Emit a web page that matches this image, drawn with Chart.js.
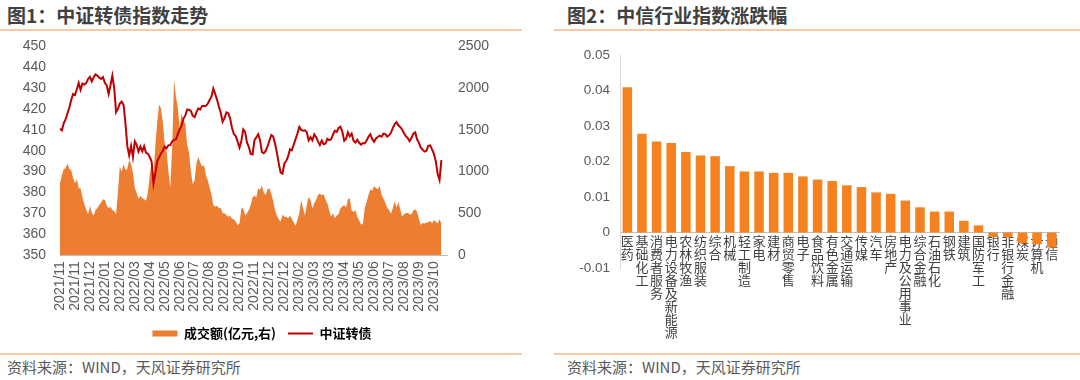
<!DOCTYPE html>
<html><head><meta charset="utf-8">
<script src="https://cdn.jsdelivr.net/npm/chart.js@4.4.0/dist/chart.umd.min.js"></script>
<style>
html,body{margin:0;padding:0;background:#fff;}
body{width:1080px;height:380px;position:relative;overflow:hidden;font-family:"Noto Sans CJK SC","Liberation Sans",sans-serif;}
.title{position:absolute;top:3px;font-size:19px;font-weight:bold;color:#404040;line-height:24px;white-space:nowrap;}
.rule{position:absolute;height:2px;background:#F8C9A2;}
.src{position:absolute;top:357px;font-size:15px;color:#595959;line-height:20px;white-space:nowrap;}
.box{position:absolute;}
</style></head>
<body>
<div class="title" style="left:7px;">图1：中证转债指数走势</div>
<div class="title" style="left:567px;">图2：中信行业指数涨跌幅</div>
<div class="rule" style="left:0;top:29px;width:522px;"></div>
<div class="rule" style="left:554px;top:29px;width:526px;"></div>
<div class="rule" style="left:0;top:353px;width:522px;"></div>
<div class="rule" style="left:554px;top:353px;width:526px;"></div>
<div class="src" style="left:7px;">资料来源：WIND，天风证券研究所</div>
<div class="src" style="left:567px;">资料来源：WIND，天风证券研究所</div>
<div class="box" style="left:0;top:24px;width:524px;height:331px;"><canvas id="c1" width="524" height="331"></canvas></div>
<div class="box" style="left:540px;top:35px;width:540px;height:305px;"><canvas id="c2" width="540" height="305"></canvas></div>
<script>
// ---- Chart 1 data ----
const tickLabels = ['2021/11','2021/11','2021/12','2022/01','2022/02','2022/03','2022/04','2022/05','2022/06','2022/07','2022/08','2022/09','2022/10','2022/11','2022/12','2022/12','2023/02','2023/03','2023/03','2023/04','2023/05','2023/06','2023/07','2023/08','2023/09','2023/10'];
const cbIndex = [
410.6,409.8,413.2,415,418,420.7,424.3,427.2,426.7,429.5,
432.5,429.2,432.2,431.7,432.4,434.4,435.4,433.2,435.2,436.6,
435.9,435,434.4,435.3,432.6,431.3,427.3,431.4,436,430,
418.5,420.2,422.6,423.5,422,413.2,402.3,397.8,402.3,397,
404.5,402.8,399.6,402,399.8,402.2,399,398.6,397,394.8,
384.3,389.2,395,396.8,398.6,400,402,401.2,402.6,402.7,
404.5,405.2,405.4,408,410.2,412,415.3,
416.8,419.7,419.6,419.1,416.8,416.1,418.5,420.3,419.7,421.5,
421.5,421.5,422.5,424.3,425.8,429.8,427.3,424.4,421.1,418.1,
413.9,415.6,418.4,418,415.4,410.9,408,407,404.4,401.5,
404.7,410.2,409,404,401.8,398.5,398.2,405,406.4,407.9,
405,399.3,398.8,399.9,402.1,404.8,407.5,406.9,403.5,399.2,
394,389.5,389,393.9,395.1,397.3,400.7,400.2,402.9,405.6,
408.2,411.4,410,409.6,
409.8,408.9,405,406.5,405,407.9,406.5,404.5,402.7,404.9,
403.2,403.4,405.7,405.1,405.5,407.7,409.6,409,410.9,411.5,
409.2,404.8,405.7,408.8,406.9,408.2,404.8,403.9,405.3,403.8,
402.9,403.7,403.5,404.9,406.7,407.9,405.6,404.3,405.9,406.6,
407.2,406.7,408.2,408,406.8,407.4,408.6,410.8,412.8,413.7,
412.2,411.3,410.2,408.4,407,406.1,404.6,406.2,408.2,408.8,
405.5,403.8,401.5,400.5,399.6,400,402.4,402.6,400.7,398.5,
395,389,386,395.5
];
const turnover = [
857,958,1030,1040,1100,1030,1020,920,857,910,
800,800,690,610,550,485,590,510,470,540,
565,600,630,670,660,595,560,580,540,525,
490,760,1060,998,1090,1020,1030,1140,1090,990,
810,740,675,710,680,670,650,750,960,1110,
960,1310,1590,1800,1760,1590,1340,1250,1000,810,
1300,2100,1900,1770,1520,1700,1610,
1580,1320,1230,1000,850,900,1100,1175,1110,1060,
1080,960,900,810,730,600,580,590,560,565,
500,500,480,460,470,435,430,400,360,380,
560,560,475,500,540,600,690,715,690,800,
780,830,750,720,790,800,735,650,540,475,
430,400,485,455,455,440,470,435,390,350,
420,500,660,560,
475,600,696,660,555,620,660,720,736,716,
730,665,620,530,460,500,440,475,490,560,
585,596,570,670,680,535,515,540,460,415,
370,370,560,636,720,790,770,825,805,790,
830,725,675,630,570,540,495,560,645,570,
636,545,460,490,505,505,490,490,535,550,
520,430,360,385,380,390,394,410,380,420,
400,380,430,380
];
const leftTicks = {min:350, max:450, step:10};
const rightTicks = {min:0, max:2500, step:500};

// ---- Chart 2 data ----
const industries = ['医药','基础化工','消费者服务','电力设备及新能源','农林牧渔','纺织服装','综合','机械','轻工制造','家电','建材','商贸零售','电子','食品饮料','有色金属','交通运输','传媒','汽车','房地产','电力及公用事业','综合金融','石油石化','钢铁','建筑','国防军工','银行','非银行金融','煤炭','计算机','通信'];
const industryChange = [0.0409,0.0278,0.0256,0.0252,0.0227,0.0217,0.0215,0.0187,0.0172,0.0172,0.0168,0.0168,0.0158,0.0149,0.0145,0.0133,0.0128,0.0113,0.0109,0.0090,0.0071,0.0059,0.0059,0.0033,0.0020,-0.0012,-0.0014,-0.0030,-0.0033,-0.0042];
const barTicks = {min:-0.01, max:0.05, step:0.01};

Chart.defaults.font.family = '"Liberation Sans","Noto Sans CJK SC",sans-serif';
Chart.defaults.animation = false;

// category labels for daily points: a tick label every 8 points, a few empty slots at the end
const STEP = 8, EXTRA = 3;
const catLabels = [];
for (let i = 0; i < cbIndex.length + EXTRA; i++) {
  catLabels.push(i % STEP === 0 && i / STEP < tickLabels.length ? tickLabels[i / STEP] : '');
}

new Chart(document.getElementById('c1'), {
  type: 'line',
  data: {
    labels: catLabels,
    datasets: [
      {label:'中证转债', data: cbIndex, yAxisID:'y', borderColor:'#C00000', borderWidth:2, pointRadius:0, fill:false, tension:0, order:0},
      {label:'成交额(亿元,右)', data: turnover, yAxisID:'y1', backgroundColor:'#ED7D31', borderColor:'#ED7D31', borderWidth:0, pointRadius:0, fill:'origin', tension:0, order:1}
    ]
  },
  options: {
    responsive:false,
    layout:{padding:{top:10.5,bottom:5,left:0,right:0}},
    plugins:{
      tooltip:{enabled:false},
      legend:{position:'bottom', labels:{usePointStyle:true, pointStyleWidth:25, boxHeight:6, padding:12, color:'#262626',
        font:{size:13, weight:'bold', family:'"Noto Sans CJK SC","Liberation Sans",sans-serif'},
        generateLabels: () => [
          {text:'成交额(亿元,右)', fillStyle:'#ED7D31', strokeStyle:'#ED7D31', lineWidth:0, pointStyle:'rect', datasetIndex:1, hidden:false},
          {text:'中证转债', fillStyle:'#C00000', strokeStyle:'#C00000', lineWidth:2, pointStyle:'line', datasetIndex:0, hidden:false}
        ]}}
    },
    scales:{
      x:{type:'category', grid:{display:false, drawTicks:false}, border:{display:true, color:'#BFBFBF', width:1},
        ticks:{autoSkip:false, maxRotation:90, minRotation:90, padding:6, color:'#595959', font:{size:14}},
        afterFit: s => { s.height = 59.9; }},
      y:{position:'left', min:leftTicks.min, max:leftTicks.max, grid:{display:false, drawTicks:false}, border:{display:false},
        ticks:{stepSize:leftTicks.step, autoSkip:false, padding:14, color:'#595959', font:{size:14}, callback: v => String(v)},
        afterFit: s => { s.width = 60; }},
      y1:{position:'right', min:rightTicks.min, max:rightTicks.max, grid:{display:false, drawTicks:false}, border:{display:false},
        ticks:{stepSize:rightTicks.step, autoSkip:false, padding:11, color:'#595959', font:{size:14}, callback: v => String(v)},
        afterFit: s => { s.width = 77; }}
    }
  }
});

new Chart(document.getElementById('c2'), {
  type:'bar',
  data:{
    labels: industries.map(s => Array.from(s)),
    datasets:[{label:'涨跌幅', data: industryChange, backgroundColor:'#F5821F', borderWidth:0, categoryPercentage:1, barPercentage:0.65}]
  },
  options:{
    responsive:false,
    layout:{padding:{top:20, bottom:72, left:0, right:21}},
    plugins:{legend:{display:false}, tooltip:{enabled:false}},
    scales:{
      x:{type:'category', position:{y:0}, z:1, grid:{display:false, drawTicks:false}, border:{display:true, color:'#BFBFBF', width:1},
        ticks:{autoSkip:false, maxRotation:0, minRotation:0, padding:2, color:'#404040',
          font:{size:13, lineHeight:1.0, family:'"Noto Sans CJK SC",sans-serif'}},
        afterFit: s => { s.height = 0; }},
      y:{min:barTicks.min, max:barTicks.max, grid:{display:false, drawTicks:false}, border:{display:true, color:'#D9D9D9', width:1},
        ticks:{stepSize:barTicks.step, autoSkip:false, padding:10, color:'#595959', font:{size:13.5},
          callback: v => Math.abs(v) < 1e-9 ? '0' : Number(v).toFixed(2)},
        afterFit: s => { s.width = 80; }}
    }
  }
});
</script>
</body></html>
